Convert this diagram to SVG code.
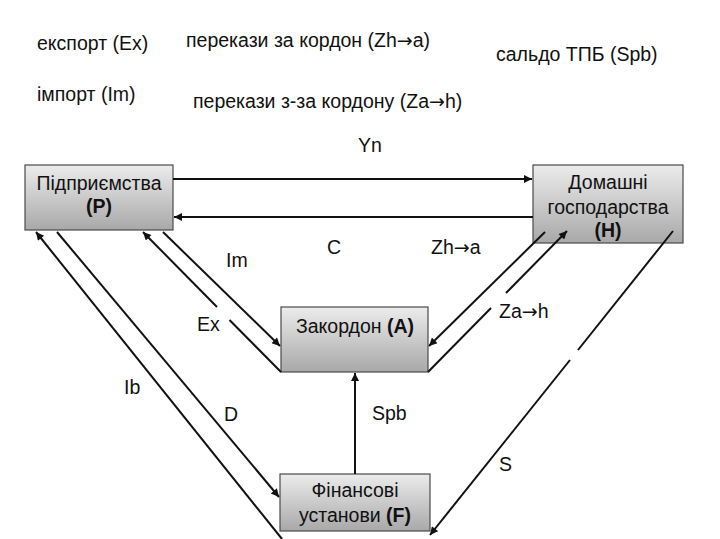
<svg xmlns="http://www.w3.org/2000/svg" width="720" height="539" viewBox="0 0 720 539">
<style>
text{font-family:"Liberation Sans",Arial,sans-serif;font-size:19.5px;fill:#111}
.c{text-anchor:middle}
.b{font-weight:bold}
.arr{font-family:"DejaVu Sans","Liberation Sans",sans-serif;font-size:19px}
.box{fill:url(#g);stroke:#4a4a4a;stroke-width:1.2}
.ln{stroke:#111;stroke-width:2;fill:none}
.ar{marker-end:url(#ah)}
</style>
<defs>
<linearGradient id="g" x1="0" y1="0" x2="0" y2="1">
<stop offset="0" stop-color="#ececec"/>
<stop offset="1" stop-color="#a8a8a8"/>
</linearGradient>
<marker id="ah" viewBox="0 0 10 10" refX="10" refY="5" markerUnits="userSpaceOnUse" markerWidth="10" markerHeight="8" orient="auto">
<path d="M0,0 L10,5 L0,10 z" fill="#111"/>
</marker>
</defs>
<rect width="720" height="539" fill="#fff"/>

<g id="legend">
<text x="37" y="50">експорт (Ex)</text>
<text x="186" y="47">перекази за кордон (Zh<tspan class="arr">→</tspan>a)</text>
<text x="496" y="61">сальдо ТПБ (Spb)</text>
<text x="37" y="101">імпорт (Im)</text>
<text x="193" y="108">перекази з-за кордону (Za<tspan class="arr">→</tspan>h)</text>
</g>

<g id="node-P">
<rect class="box" x="25" y="165" width="148" height="65"/>
<text class="c" x="99" y="190">Підприємства</text>
<text class="c b" x="99" y="213">(P)</text>
</g>
<g id="node-H">
<rect class="box" x="533" y="165" width="150" height="78"/>
<text class="c" x="608" y="189">Домашні</text>
<text class="c" x="608" y="214">господарства</text>
<text class="c b" x="608" y="237">(H)</text>
</g>
<g id="node-A">
<rect class="box" x="281" y="307" width="147" height="65"/>
<text class="c" x="355" y="333">Закордон <tspan class="b">(A)</tspan></text>
</g>
<g id="node-F">
<rect class="box" x="280" y="474" width="150" height="57"/>
<text class="c" x="355" y="497">Фінансові</text>
<text class="c" x="355" y="522">установи <tspan class="b">(F)</tspan></text>
</g>

<g id="connectors">
<line class="ln ar" x1="173" y1="179" x2="532" y2="179"/>
<line class="ln ar" x1="533" y1="217" x2="174" y2="217"/>
<line class="ln ar" x1="163" y1="232" x2="280" y2="346"/>
<line class="ln" x1="281" y1="372" x2="229.5" y2="320"/>
<line class="ln ar" x1="217" y1="307" x2="143" y2="232"/>
<line class="ln ar" x1="57" y1="232" x2="279" y2="497"/>
<line class="ln ar" x1="282" y1="539" x2="36" y2="232"/>
<line class="ln ar" x1="545" y1="232" x2="429" y2="346"/>
<line class="ln" x1="428" y1="372" x2="491" y2="308"/>
<line class="ln ar" x1="506" y1="293" x2="567" y2="231"/>
<line class="ln" x1="673" y1="231" x2="578" y2="350"/>
<line class="ln ar" x1="570" y1="360" x2="430" y2="535"/>
<line class="ln ar" x1="355" y1="474" x2="355" y2="373"/>
</g>

<g id="connector-labels">
<text x="358" y="152">Yn</text>
<text x="226" y="267">Im</text>
<text x="327" y="254">C</text>
<text x="431" y="254">Zh<tspan class="arr">→</tspan>a</text>
<text x="197" y="331">Ex</text>
<text x="499" y="318">Za<tspan class="arr">→</tspan>h</text>
<text x="124" y="394">Ib</text>
<text x="224" y="421">D</text>
<text x="372" y="420">Spb</text>
<text x="499" y="471">S</text>
</g>
</svg>
